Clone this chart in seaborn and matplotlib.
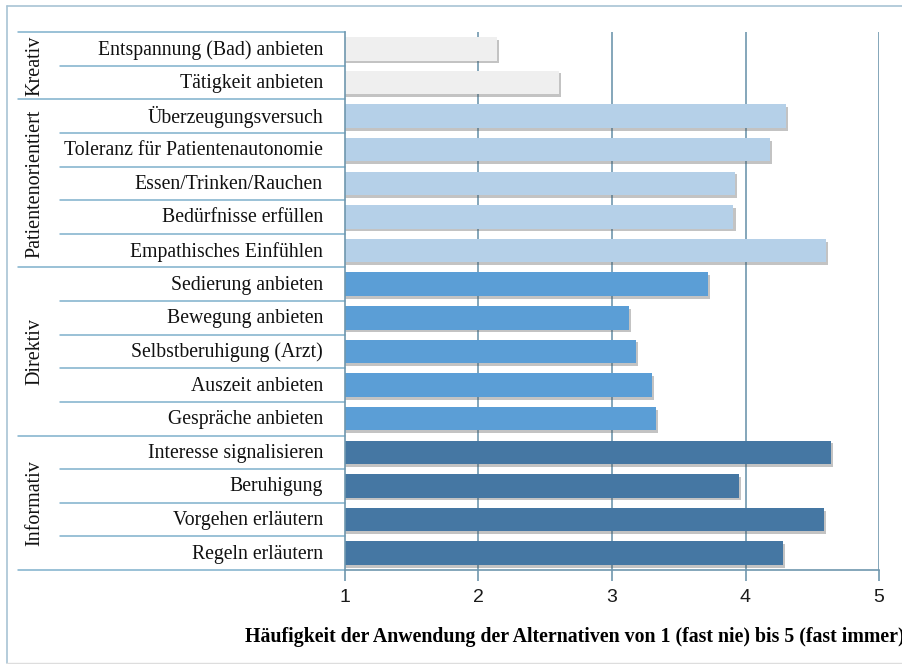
import matplotlib
matplotlib.use("Agg")
import matplotlib.pyplot as plt
import matplotlib.patheffects as pe
from matplotlib.transforms import blended_transform_factory
import seaborn as sns
import pandas as pd

items = ["Entspannung (Bad) anbieten", "Tätigkeit anbieten",
         "Überzeugungsversuch", "Toleranz für Patientenautonomie",
         "Essen/Trinken/Rauchen", "Bedürfnisse erfüllen", "Empathisches Einfühlen",
         "Sedierung anbieten", "Bewegung anbieten", "Selbstberuhigung (Arzt)",
         "Auszeit anbieten", "Gespräche anbieten",
         "Interesse signalisieren", "Beruhigung", "Vorgehen erläutern", "Regeln erläutern"]
values = [2.14, 2.60, 4.30, 4.18, 3.92, 3.91, 4.60, 3.72, 3.13, 3.18, 3.30, 3.33,
          4.64, 3.95, 4.59, 4.28]
groups = ["Kreativ"] * 2 + ["Patientenorientiert"] * 5 + ["Direktiv"] * 5 + ["Informativ"] * 4
group_names = ["Kreativ", "Patientenorientiert", "Direktiv", "Informativ"]
group_colors = ["#efefef", "#b5d0e8", "#5b9ed6", "#4577a3"]
xticks = [1, 2, 3, 4, 5]
xlabel = "Häufigkeit der Anwendung der Alternativen von 1 (fast nie) bis 5 (fast immer)"

df = pd.DataFrame({"item": items, "value": values, "group": groups})

sns.set_theme(style="white")
plt.rcParams["font.family"] = ["Liberation Serif", "DejaVu Serif"]

W, H = 903, 664
fig = plt.figure(figsize=(W / 100, H / 100), dpi=100)
ax = fig.add_axes([345 / W, 1 - 570 / H, (879 - 345) / W, (570 - 32) / H])

sns.barplot(data=df, x="value", y="item", hue="group", hue_order=group_names,
            palette=group_colors, dodge=False, width=0.7, legend=False, ax=ax,
            order=items, saturation=1)
for p in ax.patches:
    p.set_path_effects([pe.SimplePatchShadow(offset=(1.5, -2), alpha=0.35, shadow_rgbFace="#555555"),
                        pe.Normal()])
    p.set_edgecolor("none")

line_col = "#6f97ae"
ax.set_xlim(1, 5)
ax.set_ylim(len(items) - 0.5, -0.5)
ax.set_xticks(xticks)
ax.set_xticklabels([str(t) for t in xticks], family=["Liberation Sans"], fontsize=14,
                   color="#1a1a1a")
ax.tick_params(axis="x", length=8, width=1.2, color=line_col, pad=6, bottom=True)
ax.set_yticks([])
ax.set_ylabel("")
ax.set_xlabel("")
for s in ["top", "right"]:
    ax.spines[s].set_visible(False)
for s in ["left", "bottom"]:
    ax.spines[s].set_color(line_col)
    ax.spines[s].set_linewidth(1.2)
for t in xticks[1:]:
    ax.axvline(t, color=line_col, lw=1.2, zorder=0)
ax.set_axisbelow(True)

# left table
tr = blended_transform_factory(fig.transFigure, ax.transData)
sep_col = "#7fb0cc"
bounds = []
start = 0
for g in group_names:
    n = groups.count(g)
    bounds.append((start, start + n))
    start += n
for i in range(len(items) + 1):
    y = i - 0.5
    is_group = any(y == b[0] - 0.5 for b in bounds) or y == len(items) - 0.5
    x0 = 18 / W if is_group else 60 / W
    ax.plot([x0, 345 / W], [y, y], color=sep_col, lw=1.1, transform=tr, clip_on=False)
for i, name in enumerate(items):
    ax.text(323 / W, i + 0.03, name, transform=tr, ha="right", va="center", fontsize=14.2,
            color="#111111")
for g, (a, b) in zip(group_names, bounds):
    ax.text(35 / W, (a + b - 1) / 2, g, transform=tr, ha="center", va="center",
            rotation=90, fontsize=14.5, color="#111111")

fig.text(245 / W, 1 - 637 / H, xlabel, ha="left", va="center", fontsize=14.3,
         fontweight="bold", color="#000000")

# frame
fc = "#a8c4d4"
fig.add_artist(plt.Line2D([7 / W, 7 / W], [1 - 663 / H, 1 - 6 / H], color=fc, lw=1.2,
                          transform=fig.transFigure))
fig.add_artist(plt.Line2D([7 / W, 1], [1 - 6 / H, 1 - 6 / H], color=fc, lw=1.2,
                          transform=fig.transFigure))
fig.add_artist(plt.Line2D([7 / W, 1], [1 - 663 / H, 1 - 663 / H], color="#dddddd", lw=1.0,
                          transform=fig.transFigure))

fig.savefig("out.png", dpi=100)
